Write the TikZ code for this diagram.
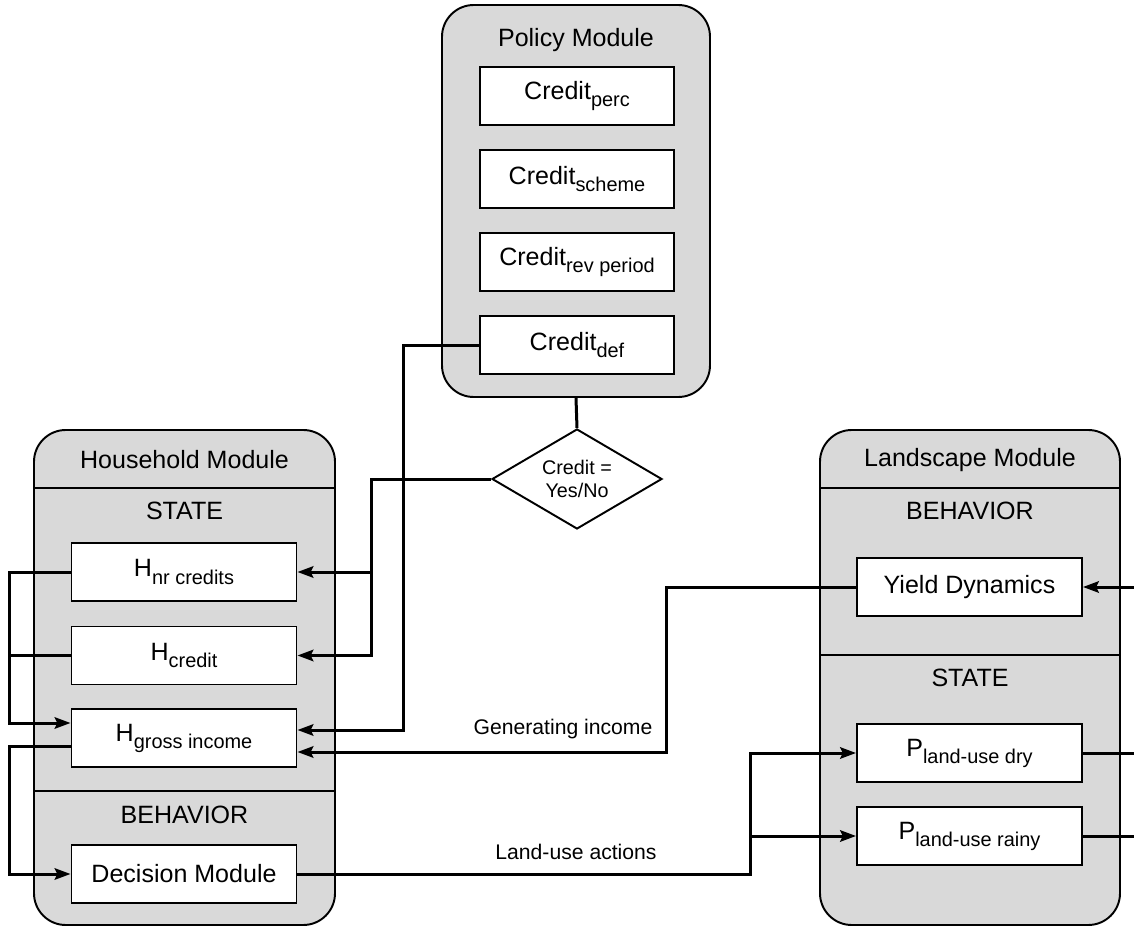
\documentclass[tikz,border=0pt]{standalone}
\usepackage{fontspec}
\setmainfont{Liberation Sans}
\usetikzlibrary{shapes.geometric,arrows.meta,calc}
\newdimen\pxu
\pxu=0.567pt
\newcommand\subt[1]{\raisebox{-4pt}{\fontsize{11.3}{13}\selectfont #1}}
\definecolor{modgray}{HTML}{D9D9D9}
\begin{document}
\begin{tikzpicture}[x=0.567pt,y=-0.567pt,
  every node/.style={font=\fontsize{14.2}{17}\selectfont},
  module/.style={draw, line width=1.1pt, fill=modgray, rounded corners=18pt, inner sep=0pt},
  box/.style={draw, line width=1.1pt, fill=white, minimum height=58\pxu, inner sep=0pt},
  hbox/.style={box, minimum width=225\pxu},
  pbox/.style={box, minimum width=194\pxu},
  title/.style={inner sep=0pt},
  sepline/.style={line width=1.6pt},
  conn/.style={line width=1.7pt},
  arr/.style={conn, -{Stealth[length=9pt,width=6.5pt,inset=1.5pt]}},
  lbl/.style={font=\fontsize{12}{14}\selectfont, inner sep=0pt},
  decision/.style={draw, line width=1.1pt, fill=white, diamond, aspect=1.7, inner sep=0pt,
    minimum width=170\pxu, minimum height=100\pxu, align=center,
    font=\fontsize{11.2}{13.5}\selectfont}
]
\useasboundingbox (0,0) rectangle (1134,928);

% modules
\node[module, minimum width=268\pxu, minimum height=392\pxu] (policy) at (576,201) {};
\node[module, minimum width=301\pxu, minimum height=495\pxu] (house) at (184.5,677.5) {};
\node[module, minimum width=300\pxu, minimum height=495\pxu] (land) at (970,677.5) {};

% separators
\draw[sepline] (34,488) -- (335,488);
\draw[sepline] (34,791) -- (335,791);
\draw[sepline] (820,488) -- (1120,488);
\draw[sepline] (820,655) -- (1120,655);

% titles
\node[title] (ptitle) at (576,40) {Policy Module};
\node[title] (htitle) at (184.5,460) {Household Module};
\node[title] (hstate) at (184.5,511) {STATE};
\node[title] (hbeh) at (184.5,815) {BEHAVIOR};
\node[title] (ltitle) at (970,460) {Landscape Module};
\node[title] (lbeh) at (970,511) {BEHAVIOR};
\node[title] (lstate) at (970,678) {STATE};

% policy boxes
\node[pbox] (cperc) at (577,96) {Credit\subt{perc}};
\node[pbox] (cscheme) at (577,179) {Credit\subt{scheme}};
\node[pbox] (crev) at (577,262) {Credit\subt{rev period}};
\node[pbox] (cdef) at (577,345) {Credit\subt{def}};

% diamond
\node[decision] (dia) at (577,479) {Credit =\\Yes/No};

% household boxes
\node[hbox] (hnr) at (184,572) {H\subt{nr credits}};
\node[hbox] (hcredit) at (184,655.5) {H\subt{credit}};
\node[hbox] (hgross) at (184,738) {H\subt{gross income}};
\node[hbox] (dec) at (184,874) {Decision Module};

% landscape boxes
\node[hbox] (yield) at (969.5,587) {Yield Dynamics};
\node[hbox] (pdry) at (969.5,753) {P\subt{land-use dry}};
\node[hbox] (prainy) at (969.5,836) {P\subt{land-use rainy}};

% connectors
\draw[conn] (policy.south) -- (dia.north);
\draw[arr] (cdef.west) -- ++(-76,0) |- ($(hgross.east)+(0,-8)$);
\draw[arr] (dia.west) -- ++(-120,0) coordinate (j1) |- (hcredit.east);
\draw[arr] (j1 |- hnr.east) -- (hnr.east);
\draw[arr] (hnr.west) -- ++(-61,0) coordinate (j3) |- ($(hgross.west)+(0,-15)$);
\draw[conn] (hcredit.west) -- (j3 |- hcredit.west);
\draw[arr] ($(hgross.west)+(0,8)$) -- ++(-61,0) |- (dec.west);
\draw[arr] (yield.west) -- ++(-190,0) |- ($(hgross.east)+(0,14)$);
\draw[arr] (dec.east) -- ++(453,0) coordinate (j2) |- (pdry.west);
\draw[arr] (j2 |- prainy.west) -- (prainy.west);

\coordinate (rin) at (1134,587);
\coordinate (rdry) at (1134,753);
\coordinate (rrainy) at (1134,836);
\draw[arr] (rin) -- (yield.east);
\draw[conn] (pdry.east) -- (rdry);
\draw[conn] (prainy.east) -- (rrainy);

% labels
\node[lbl] (lgen) at (563,729) {Generating income};
\node[lbl] (lland) at (576,852) {Land-use actions};
\end{tikzpicture}
\end{document}
